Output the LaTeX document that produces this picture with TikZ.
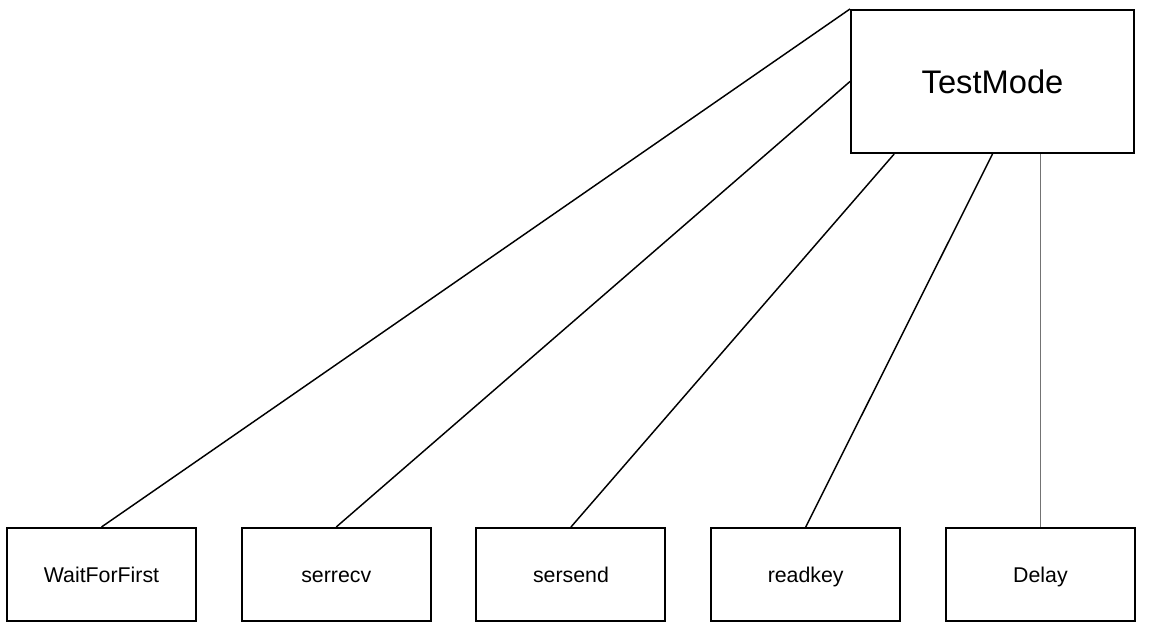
\documentclass[tikz,border=0pt]{standalone}
\usepackage{fontspec}
\setmainfont{Liberation Sans}
\usetikzlibrary{positioning,calc}

\begin{document}
\begin{tikzpicture}[
  x=0.75pt,y=-0.75pt,
  node distance=32.8pt,
  box/.style={draw,line width=1.5pt,minimum width=141.75pt,minimum height=69.75pt,inner sep=0pt,text height=11.5pt,text depth=0pt,font=\fontsize{16}{19}\selectfont},
  topbox/.style={box,minimum width=212.25pt,minimum height=107.25pt,text height=17.6pt,font=\fontsize{24.5}{29}\selectfont},
  link/.style={line width=1.1pt},
  thinlink/.style={line width=0.6pt,black!55}
]
\useasboundingbox (0,0) rectangle (1159,624);
\node[topbox] (test) at (992.5,81.5) {TestMode};

\node[box] (wait) at (101.5,574.5) {WaitForFirst};
\node[box,right=of wait] (serrecv) {serrecv};
\node[box,right=of serrecv] (sersend) {sersend};
\node[box,right=of sersend] (readkey) {readkey};
\node[box,right=of readkey] (delay) {Delay};

\draw[link] (test.north west) -- (wait.north);
\draw[link] (test.west) -- (serrecv.north);
\draw[link] ($(test.south west)!0.155!(test.south east)$) -- (sersend.north);
\draw[link] (test.south) -- (readkey.north);
\draw[thinlink] (delay.north) -- (delay.north |- test.south);
\end{tikzpicture}
\end{document}
